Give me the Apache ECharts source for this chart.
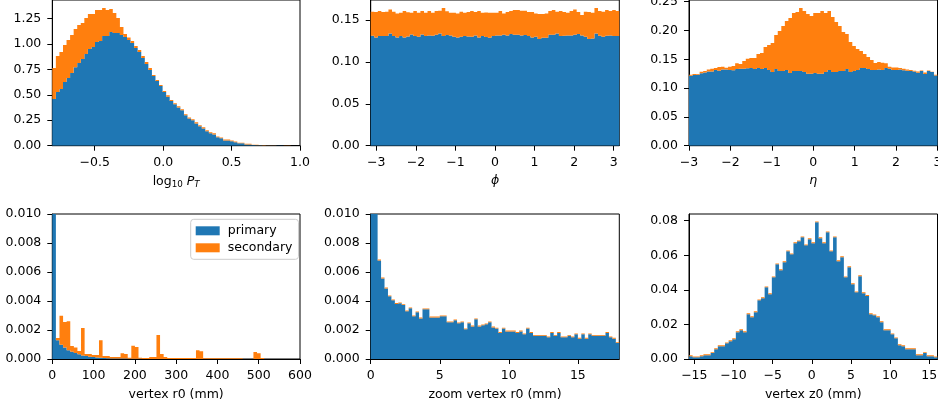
<!DOCTYPE html>
<html><head><meta charset="utf-8">
<script src="https://cdn.jsdelivr.net/npm/echarts@6/dist/echarts.min.js"></script>
<style>html,body{margin:0;padding:0;background:#fff}#c{width:938px;height:406px}</style>
</head><body><div id="c"></div><script>
// ---------- data ----------
const ptBinStart = -0.81, ptBinWidth = 0.026;
const ptPrimary = [0.458,0.527,0.556,0.625,0.664,0.713,0.769,0.812,0.851,0.9,
  0.949,0.969,1.018,1.027,1.077,1.077,1.116,1.106,1.106,1.086,
  1.067,1.037,1.008,0.959,0.92,0.861,0.802,0.743,0.684,0.635,
  0.586,0.527,0.481,0.438,0.406,0.376,0.347,0.298,0.268,0.249,
  0.219,0.19,0.17,0.141,0.121,0.111,0.082,0.072,0.052,0.052,
  0.043,0.033,0.023,0.023,0.013,0.013,0.006,0.005,0.004,0.003,
  0.002,0.002,0.001,0.001,0.001,0.0005,0.0005];
const ptSecondary = [0.304,0.353,0.364,0.363,0.373,0.373,0.376,0.373,0.353,0.353,
  0.344,0.324,0.314,0.305,0.274,0.255,0.226,0.196,0.147,0.079,
  0.029,0.026,0.019,0.019,0.019,0.019,0.019,0.019,0.01,0.01,
  0.01,0.01,0.013,0.01,0.01,0.01,0.01,0.01,0.01,0.01,
  0.01,0.01,0.01,0.01,0.01,0.01,0.009,0.009,0.008,0.008,
  0.008,0.007,0.007,0.006,0.006,0.006,0.004,0.004,0.003,0.003,
  0.003,0.003,0.003,0.002,0.002,0.002,0.002];
const ptTicksX = [-0.5, 0.0, 0.5, 1.0];
const ptTicksY = [0, 0.25, 0.5, 0.75, 1.0, 1.25];

const phiBinStart = -3.1416, phiBinWidth = 0.08976;
const phiPrimary = [0.1313,0.1293,0.1309,0.1309,0.1309,0.1341,0.1309,0.1293,0.1309,0.1293,0.1305,
  0.1329,0.1309,0.1301,0.1329,0.1309,0.1317,0.1313,0.1325,0.1341,0.1309,0.1321,
  0.1317,0.1301,0.1293,0.1301,0.1309,0.1305,0.1301,0.1317,0.1293,0.1309,0.1297,
  0.1289,0.1309,0.1317,0.1317,0.1325,0.1317,0.1333,0.1325,0.1325,0.1317,0.1321,
  0.1309,0.1293,0.1301,0.1273,0.1289,0.1289,0.1325,0.1325,0.1341,0.1309,0.1313,
  0.1317,0.1317,0.1325,0.1333,0.1317,0.1301,0.1273,0.1281,0.1341,0.1313,0.1301,
  0.1313,0.1317,0.1309,0.1309];
const phiSecondary = [0.0287,0.0303,0.0299,0.0287,0.0291,0.0287,0.0291,0.0287,0.0279,0.0315,0.029,
  0.0259,0.0299,0.0287,0.0279,0.0279,0.0291,0.0275,0.0283,0.0271,0.0334,0.0285,
  0.0271,0.0287,0.0287,0.0299,0.0279,0.0291,0.0307,0.0279,0.0315,0.0279,0.0295,
  0.0299,0.0279,0.0271,0.0291,0.0255,0.0279,0.0275,0.0295,0.0295,0.0295,0.029,
  0.0287,0.0303,0.0279,0.0299,0.0283,0.0291,0.0283,0.0295,0.0259,0.0299,0.0285,
  0.0271,0.0291,0.0303,0.0263,0.0243,0.0299,0.0323,0.0307,0.0302,0.0295,0.03,
  0.0307,0.0291,0.0311,0.0299];
const phiTicksX = [-3, -2, -1, 0, 1, 2, 3];
const phiTicksY = [0, 0.05, 0.10, 0.15];

const etaBinStart = -3, etaBinWidth = 0.085714;
const etaPrimary = [0.1215,0.1227,0.1233,0.1256,0.1273,0.129,0.129,0.1314,0.1302,0.1325,
  0.1325,0.1314,0.1308,0.1331,0.1337,0.1337,0.1343,0.1348,0.1331,0.1348,
  0.1331,0.1348,0.1314,0.1279,0.1331,0.1296,0.1296,0.1314,0.1262,0.1296,
  0.1296,0.1296,0.1279,0.125,0.125,0.1262,0.125,0.125,0.1279,0.1314,
  0.1279,0.1279,0.1296,0.1296,0.1331,0.1279,0.1296,0.1314,0.1348,0.1348,
  0.1331,0.1314,0.1314,0.1325,0.1314,0.1348,0.1337,0.1314,0.1314,0.1325,
  0.1308,0.1302,0.1296,0.129,0.1267,0.1296,0.1244,0.1296,0.1279,0.1221];
const etaSecondary = [0.0018,0.0017,0.0011,0.0029,0.0023,0.0035,0.0047,0.0034,0.0064,0.0047,
  0.0029,0.0058,0.0075,0.0099,0.0081,0.0133,0.0167,0.0174,0.0191,0.0243,
  0.0278,0.0365,0.0434,0.0503,0.059,0.0695,0.0782,0.085,0.0954,0.1007,
  0.1025,0.1094,0.1059,0.1036,0.1001,0.1041,0.1053,0.1088,0.1024,0.1024,
  0.0955,0.0868,0.0782,0.0677,0.0608,0.0521,0.0434,0.0364,0.0296,0.0243,
  0.0208,0.0173,0.0121,0.0128,0.0127,0.0082,0.0035,0.0046,0.0046,0.0023,
  0.0029,0.0023,0.0018,0.0012,0.0023,0.001,0.0029,0.001,0.0006,0.0012];
const etaTicksX = [-3, -2, -1, 0, 1, 2, 3];
const etaTicksY = [0, 0.05, 0.10, 0.15, 0.20, 0.25];

const r0BinStart = 0, r0BinWidth = 8.7;
const r0Primary = [0.1,0.0013,0.00098,0.0008,0.0006,0.0005,0.00042,0.00032,0.00024,0.0002,
  0.00016,0.00013,0.0001,0.00008,0.00007,0.00005,0.00004,0.00003,0.00003,0.00003,
  0.00003,0.00002,0.00002,0.00001,0.00001,0,0,0,0,0,
  0,0,0,0,0,0,0,0,0,0,
  0,0,0,0,0,0,0,0,0,0,
  0,0,0,0,0,0,0,0,0,0];
const r0Secondary = [0.0003,0.00015,0.002,0.00175,0.002,0.0004,0.00038,0.00023,0.0019,0.00014,
  0.00018,0.00015,0.00018,0.00122,0.00013,0.00015,0.0001,0.0001,0.0001,0.00037,
  0.00031,0.00007,0.0009,0.00082,0.00007,0.00007,0.00007,0.00014,0.00014,0.00165,
  0.00034,0.00014,0.00007,0.00007,0.00007,0.00007,0.00007,0.00007,0.00007,0.00007,
  0.0006,0.00053,0.00006,0.00006,0.00006,0.00006,0.00006,0.00006,0.00006,0.00006,
  0.00006,0.00006,0.00006,0,0,0,0.00048,0.0004,0.00007,0];
const r0TicksX = [0, 100, 200, 300, 400, 500, 600];
const r0TicksY = [0, 0.002, 0.004, 0.006, 0.008, 0.010];

const zr0BinStart = 0, zr0BinWidth = 0.25;
const zr0Primary = [0.04,0.013,
  0.0068,0.00556,0.00487,0.00432,0.00405,0.0038,0.00384,0.00372,0.00329,0.0035,
  0.00294,0.00322,0.0028,0.00343,0.00343,0.00287,0.00287,0.00287,0.00294,0.00294,
  0.00253,0.00253,0.00267,0.00246,0.00253,0.00205,0.00246,0.00225,0.00274,0.00225,
  0.00232,0.00239,0.00253,0.00218,0.0021,0.0018,0.0021,0.0019,0.0019,0.0019,
  0.0018,0.0019,0.0017,0.0021,0.0018,0.0016,0.0016,0.0016,0.0016,0.0015,
  0.0018,0.0016,0.0018,0.0015,0.0015,0.0016,0.0015,0.0017,0.0014,0.0017,
  0.0014,0.0017,0.0016,0.0016,0.0016,0.0016,0.0018,0.0015,0.0014,0.0011];
const zr0Secondary = [0,0,
  0.00007,0.00006,0.00006,0.00006,0.00006,0.00006,0.00006,0.00006,0.00006,0.00006,
  0.00006,0.00006,0.00006,0.00006,0.00006,0.00006,0.00006,0.00006,0.00006,0.00006,
  0.00006,0.00006,0.00006,0.00006,0.00006,0.00006,0.00006,0.00006,0.00006,0.00006,
  0.00006,0.00006,0.00006,0.00006,0.00006,0.00006,0.00006,0.00006,0.00006,0.00006,
  0.00006,0.00006,0.00006,0.00006,0.00006,0.00006,0.00006,0.00006,0.00006,0.00006,
  0.00006,0.00006,0.00006,0.00006,0.00006,0.00006,0.00006,0.00006,0.00006,0.00006,
  0.00006,0.00006,0.00006,0.00006,0.00006,0.00006,0.00006,0.00006,0.00006,0.00006];
const zr0TicksX = [0, 5, 10, 15];
const zr0TicksY = [0, 0.002, 0.004, 0.006, 0.008, 0.010];

const z0BinStart = -15.68, z0BinWidth = 0.46;
const z0Primary = [0.0016,0.001,0.001,0.0016,0.0022,0.0022,0.0034,0.0057,0.0074,0.0074,
  0.0091,0.0103,0.0115,0.0155,0.0167,0.0155,0.0259,0.0242,0.0271,0.034,
  0.0352,0.0415,0.0375,0.0473,0.0548,0.0514,0.056,0.0623,0.0606,0.067,
  0.0681,0.0704,0.0658,0.0693,0.067,0.0791,0.0699,0.067,0.0733,0.0623,
  0.0704,0.0566,0.0589,0.0473,0.0531,0.0433,0.0386,0.0479,0.0381,0.0365,
  0.0259,0.0253,0.0242,0.0213,0.0167,0.0167,0.0143,0.012,0.008,0.0074,
  0.0057,0.0057,0.0057,0.0022,0.0022,0.0034,0.0016,0.0016,0.001];
const z0Secondary = [0.0005,0.0005,0.0005,0.0005,0.0005,0.0005,0.0005,0.0005,0.0005,0.0005,
  0.0005,0.0005,0.0005,0.0005,0.0005,0.0005,0.0005,0.0005,0.0005,0.0005,
  0.0005,0.0005,0.0005,0.0005,0.0005,0.0005,0.0005,0.0005,0.0005,0.0005,
  0.0005,0.0005,0.0005,0.0005,0.0005,0.0005,0.0005,0.0005,0.0005,0.0005,
  0.0005,0.0005,0.0005,0.0005,0.0005,0.0005,0.0005,0.0005,0.0005,0.0005,
  0.0005,0.0005,0.0005,0.0005,0.0005,0.0005,0.0005,0.0005,0.0005,0.0005,
  0.0005,0.0005,0.0005,0.0005,0.0005,0.0005,0.0005,0.0005,0.0005];
const z0TicksX = [-15, -10, -5, 0, 5, 10, 15];
const z0TicksY = [0, 0.02, 0.04, 0.06, 0.08];

const seriesNames = ['primary', 'secondary'];

// ---------- styling ----------
const BLUE = '#1f77b4', ORANGE = '#ff7f0e';
const FONT = 'DejaVu Sans', FS = 12.5;

function fmt(d) {
  return function (v) {
    const t = Math.abs(v) < 1e-12 ? (0).toFixed(d) : Number(v).toFixed(d);
    return t.replace('-', '\u2212');
  };
}

function binItems(start, width, primary, secondary) {
  const p = [], s = [];
  for (let i = 0; i < primary.length; i++) {
    const x0 = start + i * width, x1 = start + (i + 1) * width;
    p.push([x0, x1, 0, primary[i]]);
    s.push([x0, x1, primary[i], primary[i] + secondary[i]]);
  }
  return [p, s];
}

// draws the whole histogram of one series as a single filled step polygon
function renderStep(params, api) {
  if (params.dataIndexInside !== 0) return null;
  const n = params.dataInsideLength;
  const top = [], bot = [];
  for (let i = 0; i < n; i++) {
    const x0 = api.value(0, i), x1 = api.value(1, i), y0 = api.value(2, i), y1 = api.value(3, i);
    top.push(api.coord([x0, y1]), api.coord([x1, y1]));
    bot.push(api.coord([x0, y0]), api.coord([x1, y0]));
  }
  const pts = top.concat(bot.reverse());
  return { type: 'polygon', shape: { points: pts }, style: { fill: api.visual('color') } };
}

const panels = [
  { grid: { left: 52.3, top: 0, width: 247.7, height: 145.7 }, xMin: -0.81, xMax: 1.0, yMax: 1.43,
    xTicks: ptTicksX, yTicks: ptTicksY, xDec: 1, yDec: 2, gap: 28,
    name: '{a|log}{b|10} {c|P}{d|T}', bins: binItems(ptBinStart, ptBinWidth, ptPrimary, ptSecondary) },
  { grid: { left: 370.7, top: 0, width: 248.6, height: 145.7 }, xMin: -Math.PI, xMax: Math.PI, yMax: 0.174,
    xTicks: phiTicksX, yTicks: phiTicksY, xDec: 0, yDec: 2, gap: 29,
    name: '{c|\u03d5}', bins: binItems(phiBinStart, phiBinWidth, phiPrimary, phiSecondary) },
  { grid: { left: 689, top: 0, width: 248.5, height: 145.7 }, xMin: -3, xMax: 3, yMax: 0.253,
    xTicks: etaTicksX, yTicks: etaTicksY, xDec: 0, yDec: 2, gap: 29,
    name: '{c|\u03b7}', bins: binItems(etaBinStart, etaBinWidth, etaPrimary, etaSecondary) },
  { grid: { left: 52.3, top: 214, width: 247.7, height: 145 }, xMin: 0, xMax: 600, yMax: 0.010,
    xTicks: r0TicksX, yTicks: r0TicksY, xDec: 0, yDec: 3, gap: 29,
    name: 'vertex r0 (mm)', bins: binItems(r0BinStart, r0BinWidth, r0Primary, r0Secondary) },
  { grid: { left: 370.7, top: 214, width: 248.6, height: 145 }, xMin: 0, xMax: 18, yMax: 0.010,
    xTicks: zr0TicksX, yTicks: zr0TicksY, xDec: 0, yDec: 3, gap: 29,
    name: 'zoom vertex r0 (mm)', bins: binItems(zr0BinStart, zr0BinWidth, zr0Primary, zr0Secondary) },
  { grid: { left: 689, top: 214, width: 248.5, height: 145 }, xMin: -15.68, xMax: 16.06, yMax: 0.0839,
    xTicks: z0TicksX, yTicks: z0TicksY, xDec: 0, yDec: 2, gap: 29,
    name: 'vertex z0 (mm)', bins: binItems(z0BinStart, z0BinWidth, z0Primary, z0Secondary) }
];

const lineStyle = { color: '#000', width: 1 };
const labelStyle = { color: '#000', fontFamily: FONT, fontSize: FS };
const rich = {
  a: { fontFamily: FONT, fontSize: FS, color: '#000' },
  b: { fontFamily: FONT, fontSize: FS * 0.7, color: '#000', padding: [7, 0, 0, 0] },
  c: { fontFamily: FONT, fontSize: FS, fontStyle: 'italic', color: '#000' },
  d: { fontFamily: FONT, fontSize: FS * 0.7, fontStyle: 'italic', color: '#000', padding: [7, 0, 0, 0] }
};

const option = { animation: false, grid: [], xAxis: [], yAxis: [], series: [],
  legend: {
    data: [{ name: seriesNames[0], icon: 'rect' }, { name: seriesNames[1], icon: 'rect' }],
    orient: 'vertical', left: 190.7, top: 219.3, itemWidth: 24, itemHeight: 9, itemGap: 4,
    padding: [5, 6, 5, 5], backgroundColor: 'rgba(255,255,255,0.8)', borderColor: '#cccccc',
    borderWidth: 1, borderRadius: 3, selectedMode: false,
    textStyle: { color: '#000', fontFamily: FONT, fontSize: FS, padding: [0, 0, 0, 3] }
  }
};

panels.forEach((pn, i) => {
  option.grid.push(Object.assign({ show: true, borderColor: '#000', borderWidth: 1, backgroundColor: 'transparent',
    containLabel: false, outerBoundsMode: 'none' }, pn.grid));
  option.xAxis.push({
    type: 'value', gridIndex: i, min: pn.xMin, max: pn.xMax,
    axisLine: { show: true, onZero: false, lineStyle },
    axisTick: { show: true, length: 5, lineStyle, customValues: pn.xTicks },
    axisLabel: { customValues: pn.xTicks, formatter: fmt(pn.xDec), margin: 10.5, ...labelStyle },
    splitLine: { show: false },
    name: pn.name, nameLocation: 'middle', nameGap: pn.gap,
    nameTextStyle: { ...labelStyle, rich }
  });
  option.yAxis.push({
    type: 'value', gridIndex: i, min: 0, max: pn.yMax,
    axisLine: { show: true, onZero: false, lineStyle },
    axisTick: { show: true, length: 5, lineStyle, customValues: pn.yTicks },
    axisLabel: { customValues: pn.yTicks, formatter: fmt(pn.yDec), margin: 11, ...labelStyle },
    splitLine: { show: false }
  });
  [0, 1].forEach(k => {
    option.series.push({
      type: 'custom', name: seriesNames[k], xAxisIndex: i, yAxisIndex: i,
      renderItem: renderStep, clip: true,
      itemStyle: { color: k === 0 ? BLUE : ORANGE },
      encode: { x: [0, 1], y: [2, 3] },
      data: pn.bins[k], z: 2
    });
  });
});

const chart = echarts.init(document.getElementById('c'), null, { renderer: 'canvas' });
chart.setOption(option);
</script></body></html>
